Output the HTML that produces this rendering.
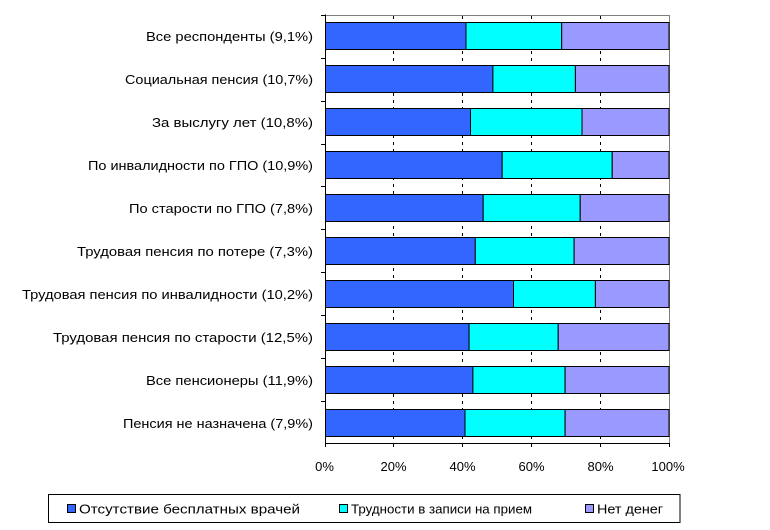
<!DOCTYPE html>
<html>
<head>
<meta charset="utf-8">
<style>
html,body{margin:0;padding:0;background:#fff;}
svg{display:block;}
text{font-family:"Liberation Sans",Arial,sans-serif;fill:#000;}
</style>
</head>
<body>
<svg width="770" height="530" viewBox="0 0 770 530" xmlns="http://www.w3.org/2000/svg">
<rect x="0" y="0" width="770" height="530" fill="#fff"/>
<!-- plot border (top/right gray) -->
<line x1="325" y1="15.5" x2="669.5" y2="15.5" stroke="#808080" stroke-width="1"/>
<line x1="669.5" y1="15" x2="669.5" y2="443.5" stroke="#808080" stroke-width="1"/>
<!-- gridlines -->
<g stroke="#000" stroke-width="1" stroke-dasharray="3,4">
<line x1="393.5" y1="16" x2="393.5" y2="443"/>
<line x1="462.5" y1="16" x2="462.5" y2="443"/>
<line x1="531.5" y1="16" x2="531.5" y2="443"/>
<line x1="600.5" y1="16" x2="600.5" y2="443"/>
</g>
<!-- bars -->
<g stroke="#000" stroke-width="1">
<rect x="325.5" y="22.5" width="140.5" height="27" fill="#3366FF"/><rect x="466" y="22.5" width="95.7" height="27" fill="#00FFFF"/><rect x="561.7" y="22.5" width="107.3" height="27" fill="#9999FF"/>
<rect x="325.5" y="65.5" width="167.4" height="27" fill="#3366FF"/><rect x="492.9" y="65.5" width="82.5" height="27" fill="#00FFFF"/><rect x="575.4" y="65.5" width="93.6" height="27" fill="#9999FF"/>
<rect x="325.5" y="108.5" width="145" height="27" fill="#3366FF"/><rect x="470.5" y="108.5" width="111.5" height="27" fill="#00FFFF"/><rect x="582" y="108.5" width="87" height="27" fill="#9999FF"/>
<rect x="325.5" y="151.5" width="176.7" height="27" fill="#3366FF"/><rect x="502.2" y="151.5" width="110" height="27" fill="#00FFFF"/><rect x="612.2" y="151.5" width="56.8" height="27" fill="#9999FF"/>
<rect x="325.5" y="194.5" width="157.7" height="27" fill="#3366FF"/><rect x="483.2" y="194.5" width="97" height="27" fill="#00FFFF"/><rect x="580.2" y="194.5" width="88.8" height="27" fill="#9999FF"/>
<rect x="325.5" y="237.5" width="149.8" height="27" fill="#3366FF"/><rect x="475.3" y="237.5" width="98.8" height="27" fill="#00FFFF"/><rect x="574.1" y="237.5" width="94.9" height="27" fill="#9999FF"/>
<rect x="325.5" y="280.5" width="188" height="27" fill="#3366FF"/><rect x="513.5" y="280.5" width="81.9" height="27" fill="#00FFFF"/><rect x="595.4" y="280.5" width="73.6" height="27" fill="#9999FF"/>
<rect x="325.5" y="323.5" width="143.6" height="27" fill="#3366FF"/><rect x="469.1" y="323.5" width="89.1" height="27" fill="#00FFFF"/><rect x="558.2" y="323.5" width="110.8" height="27" fill="#9999FF"/>
<rect x="325.5" y="366.5" width="147.4" height="27" fill="#3366FF"/><rect x="472.9" y="366.5" width="92.2" height="27" fill="#00FFFF"/><rect x="565.1" y="366.5" width="103.9" height="27" fill="#9999FF"/>
<rect x="325.5" y="409.5" width="139.5" height="27" fill="#3366FF"/><rect x="465" y="409.5" width="100.1" height="27" fill="#00FFFF"/><rect x="565.1" y="409.5" width="103.9" height="27" fill="#9999FF"/>
</g>
<!-- axes -->
<g stroke="#000" stroke-width="1">
<line x1="325.5" y1="14.5" x2="325.5" y2="447"/>
<line x1="325" y1="443.5" x2="670" y2="443.5"/>
<line x1="321" y1="15.5" x2="325" y2="15.5"/>
<line x1="321" y1="58.5" x2="325" y2="58.5"/>
<line x1="321" y1="101.5" x2="325" y2="101.5"/>
<line x1="321" y1="144.5" x2="325" y2="144.5"/>
<line x1="321" y1="186.5" x2="325" y2="186.5"/>
<line x1="321" y1="229.5" x2="325" y2="229.5"/>
<line x1="321" y1="272.5" x2="325" y2="272.5"/>
<line x1="321" y1="315.5" x2="325" y2="315.5"/>
<line x1="321" y1="358.5" x2="325" y2="358.5"/>
<line x1="321" y1="401.5" x2="325" y2="401.5"/>
<line x1="393.5" y1="443" x2="393.5" y2="447"/>
<line x1="462.5" y1="443" x2="462.5" y2="447"/>
<line x1="531.5" y1="443" x2="531.5" y2="447"/>
<line x1="600.5" y1="443" x2="600.5" y2="447"/>
<line x1="669.5" y1="443" x2="669.5" y2="447"/>
</g>
<!-- category labels -->
<g font-size="13" text-anchor="end">
<text x="313" y="41" textLength="167" lengthAdjust="spacingAndGlyphs">Все респонденты (9,1%)</text>
<text x="313" y="84" textLength="188" lengthAdjust="spacingAndGlyphs">Социальная пенсия (10,7%)</text>
<text x="313" y="127" textLength="161" lengthAdjust="spacingAndGlyphs">За выслугу лет (10,8%)</text>
<text x="313" y="170" textLength="225" lengthAdjust="spacingAndGlyphs">По инвалидности по ГПО (10,9%)</text>
<text x="313" y="213" textLength="184" lengthAdjust="spacingAndGlyphs">По старости по ГПО (7,8%)</text>
<text x="313" y="256" textLength="236" lengthAdjust="spacingAndGlyphs">Трудовая пенсия по потере (7,3%)</text>
<text x="313" y="299" textLength="291" lengthAdjust="spacingAndGlyphs">Трудовая пенсия по инвалидности (10,2%)</text>
<text x="313" y="342" textLength="260" lengthAdjust="spacingAndGlyphs">Трудовая пенсия по старости (12,5%)</text>
<text x="313" y="385" textLength="167" lengthAdjust="spacingAndGlyphs">Все пенсионеры (11,9%)</text>
<text x="313" y="428" textLength="190" lengthAdjust="spacingAndGlyphs">Пенсия не назначена (7,9%)</text>
</g>
<!-- x tick labels -->
<g font-size="13" text-anchor="middle">
<text x="324.5" y="471">0%</text>
<text x="393.5" y="471">20%</text>
<text x="462.5" y="471">40%</text>
<text x="531.5" y="471">60%</text>
<text x="600.5" y="471">80%</text>
<text x="668" y="471">100%</text>
</g>
<!-- legend -->
<rect x="48.5" y="494.5" width="631.5" height="28" fill="#fff" stroke="#000" stroke-width="1"/>
<g stroke="#000" stroke-width="1">
<rect x="67.5" y="504.5" width="8" height="8" fill="#3366FF"/>
<rect x="339.5" y="504.5" width="8" height="8" fill="#00FFFF"/>
<rect x="585.5" y="504.5" width="8" height="8" fill="#9999FF"/>
</g>
<g font-size="13">
<text x="79" y="513.5" textLength="221" lengthAdjust="spacingAndGlyphs">Отсутствие бесплатных врачей</text>
<text x="351" y="513.5" textLength="181" lengthAdjust="spacingAndGlyphs">Трудности в записи на прием</text>
<text x="597" y="513.5" textLength="66" lengthAdjust="spacingAndGlyphs">Нет денег</text>
</g>
</svg>
</body>
</html>
